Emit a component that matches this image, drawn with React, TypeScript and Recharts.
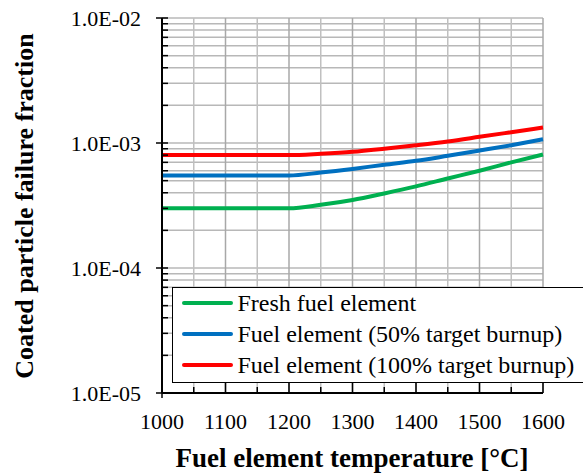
import React from 'react';
import { LineChart, Line, XAxis, YAxis, ReferenceLine, Legend } from 'recharts';

const temperatures = [1000, 1100, 1200, 1250, 1300, 1350, 1400, 1450, 1500, 1550, 1600];
const freshFuel = [3.0e-4, 3.0e-4, 3.0e-4, 3.2e-4, 3.5e-4, 3.95e-4, 4.5e-4, 5.2e-4, 6.0e-4, 7.0e-4, 8.1e-4];
const burnup50 = [5.5e-4, 5.5e-4, 5.5e-4, 5.8e-4, 6.2e-4, 6.7e-4, 7.2e-4, 7.9e-4, 8.7e-4, 9.6e-4, 1.07e-3];
const burnup100 = [8.0e-4, 8.0e-4, 8.0e-4, 8.2e-4, 8.5e-4, 9.0e-4, 9.6e-4, 1.03e-3, 1.12e-3, 1.22e-3, 1.33e-3];

const seriesNames = ['Fresh fuel element', 'Fuel element (50% target burnup)', 'Fuel element (100% target burnup)'];
const seriesColors = ['#00b050', '#0070c0', '#ff0000'];

const xTicks = [1000, 1050, 1100, 1150, 1200, 1250, 1300, 1350, 1400, 1450, 1500, 1550, 1600];
const decades = [1e-5, 1e-4, 1e-3];
const yTicks: number[] = [];
decades.forEach((d) => {
  for (let m = 1; m <= 9; m++) yTicks.push(m * d);
});
yTicks.push(1e-2);

const data = temperatures.map((t, i) => ({
  t,
  fresh: freshFuel[i],
  b50: burnup50[i],
  b100: burnup100[i],
}));

const FONT = 'Liberation Serif';

const isMajor = (v: number) => Math.abs(Math.log10(v) - Math.round(Math.log10(v))) < 1e-6;

const formatY = (v: number) => {
  const e = Math.round(Math.log10(v));
  return `1.0E-${String(-e).padStart(2, '0')}`;
};

const YTick = (props: any) => {
  const { x, y, payload } = props;
  const major = isMajor(payload.value);
  return (
    <g>
      <line x1={major ? x - 6 : x} x2={x + 6} y1={y} y2={y} stroke="#000" strokeWidth={1.5} />
      {major && (
        <text x={x - 21} y={y + 8} textAnchor="end" fontFamily={FONT} fontSize={22} fill="#000">
          {formatY(payload.value)}
        </text>
      )}
    </g>
  );
};

const XTick = (props: any) => {
  const { x, y, payload } = props;
  const major = payload.value % 100 === 0;
  return (
    <g>
      <line x1={x} x2={x} y1={major ? y - 10 : y - 6} y2={major && payload.value === 1000 ? y + 5 : y} stroke="#000" strokeWidth={1.5} />
      {major && (
        <text x={x} y={y + 36} textAnchor="middle" fontFamily={FONT} fontSize={22} fill="#000">
          {payload.value}
        </text>
      )}
    </g>
  );
};

const LegendBox = () => (
  <div
    style={{
      position: 'absolute',
      left: 172,
      top: 287,
      width: 430,
      height: 96,
      border: '1.5px solid #000',
      background: '#fff',
      boxSizing: 'border-box',
      fontFamily: FONT,
      fontSize: 24,
      color: '#000',
    }}
  >
    {seriesNames.map((n, i) => (
      <div key={n} style={{ position: 'absolute', left: 8.5, top: -0.5 + i * 31, height: 30, display: 'flex', alignItems: 'center', whiteSpace: 'nowrap', lineHeight: '30px' }}>
        <span style={{ display: 'inline-block', width: 51, height: 4, background: seriesColors[i], borderRadius: 2, marginRight: 5 }} />
        <span>{n}</span>
      </div>
    ))}
  </div>
);

export default function App() {
  return (
    <div style={{ position: 'absolute', left: 0, top: 0, width: 583, height: 473, overflow: 'hidden', background: '#fff' }}>
      <LineChart width={583} height={473} data={data} margin={{ top: 18, right: 40, left: 0, bottom: 0 }}>
        {yTicks.map((v) => (
          <ReferenceLine key={'gy' + v} y={v} stroke="#b8b8b8" strokeWidth={1.5} />
        ))}
        {xTicks.map((v) => (
          <ReferenceLine key={'gx' + v} x={v} stroke={v % 100 === 0 ? '#a8a8a8' : '#c0c0c0'} strokeWidth={1.5} />
        ))}
        <XAxis
          dataKey="t"
          type="number"
          domain={[1000, 1600]}
          ticks={xTicks}
          interval={0}
          height={80}
          tickSize={0}
          tickMargin={0}
          tickLine={false}
          axisLine={{ stroke: '#000', strokeWidth: 2 }}
          tick={<XTick />}
        />
        <YAxis
          scale="log"
          type="number"
          domain={[1e-5, 1e-2]}
          allowDataOverflow
          ticks={yTicks}
          interval={0}
          width={162}
          tickSize={0}
          tickMargin={0}
          tickLine={false}
          axisLine={{ stroke: '#000', strokeWidth: 2 }}
          tick={<YTick />}
        />
        <Line dataKey="fresh" name={seriesNames[0]} stroke={seriesColors[0]} strokeWidth={4} dot={false} type="monotone" isAnimationActive={false} />
        <Line dataKey="b50" name={seriesNames[1]} stroke={seriesColors[1]} strokeWidth={4} dot={false} type="monotone" isAnimationActive={false} />
        <Line dataKey="b100" name={seriesNames[2]} stroke={seriesColors[2]} strokeWidth={4} dot={false} type="monotone" isAnimationActive={false} />
        <Legend content={<LegendBox />} wrapperStyle={{ position: 'absolute', left: 0, top: 0, width: 0, height: 0 }} />
        <text x={24} y={206} transform="rotate(-90 24 206)" textAnchor="middle" dominantBaseline="central" fontFamily={FONT} fontSize={26} fontWeight="bold" fill="#000">
          Coated particle failure fraction
        </text>
        <text x={352} y={467} textAnchor="middle" fontFamily={FONT} fontSize={27} fontWeight="bold" fill="#000">
          Fuel element temperature [°C]
        </text>
      </LineChart>
    </div>
  );
}
